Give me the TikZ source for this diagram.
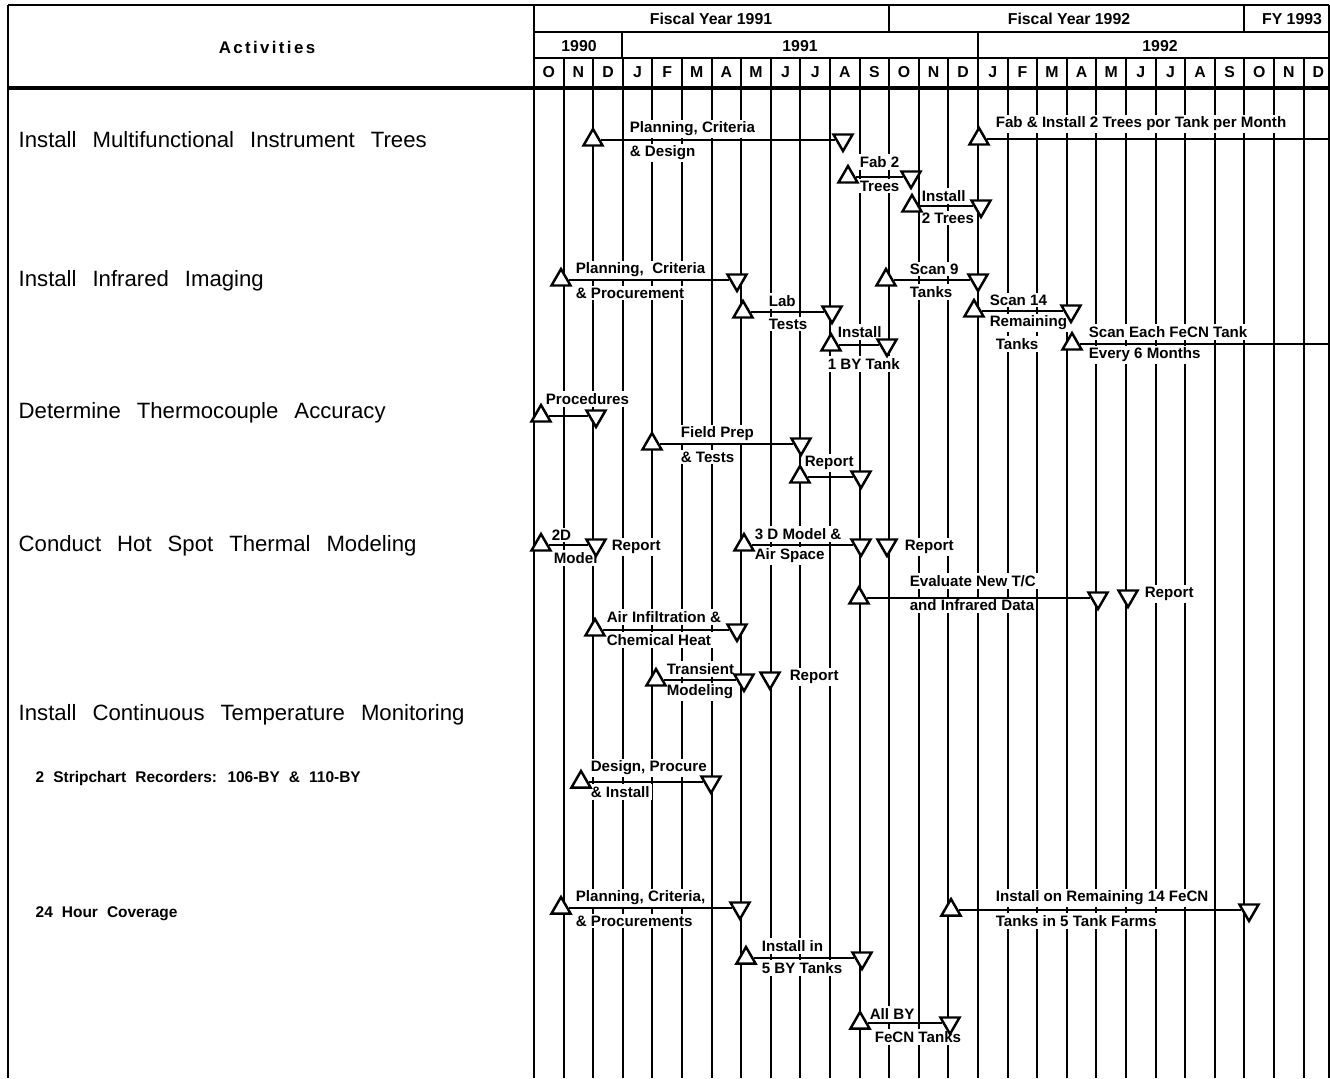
\documentclass[tikz,border=0pt]{standalone}
\usepackage{fontspec}
\setmainfont{Liberation Sans}
\usetikzlibrary{shapes.geometric}

\begin{document}
\begin{tikzpicture}[x=0.01cm,y=-0.01cm,
  rule/.style={line width=0.6pt},
  upmk/.style={draw,line width=0.7pt,fill=white,regular polygon,regular polygon sides=3,minimum size=0.22cm,inner sep=0pt},
  dnmk/.style={upmk,shape border rotate=180},
  lab/.style={anchor=west,fill=white,inner sep=0.6pt,font=\bfseries\fontsize{4.3}{5}\selectfont},
  hd/.style={font=\bfseries\fontsize{4.5}{5}\selectfont},
  act/.style={anchor=west,inner sep=0pt,font={\fontsize{6.3}{7}\selectfont\spaceskip 0.16cm\relax}},
  sub/.style={anchor=west,inner sep=0pt,font={\bfseries\fontsize{4.4}{6}\selectfont\spaceskip 0.09cm\relax}}]
\useasboundingbox (0,0) rectangle (1330,1078);

\draw[rule] (8,5) -- (1329,5);
\draw[rule] (534,32) -- (1329,32);
\draw[rule] (534,58) -- (1329,58);
\draw[line width=1.3pt] (8,88) -- (1329,88);
\draw[rule] (8,5) -- (8,1078);
\draw[rule] (534,5) -- (534,1078);
\draw[rule] (1329,5) -- (1329,1078);
\draw[rule] (889,5) -- (889,32);
\draw[rule] (1244,5) -- (1244,32);
\draw[rule] (622,32) -- (622,58);
\draw[rule] (978,32) -- (978,58);
\foreach \k in {1,...,26}
  \draw[rule] ({534+29.6*\k},58) -- ({534+29.6*\k},1078);

\node[hd,font={\bfseries\fontsize{4.8}{5}\selectfont\addfontfeature{LetterSpace=14}}] (act) at (267,47) {Activities};
\node[hd] (fy1) at (711,19) {Fiscal Year 1991};
\node[hd] (fy2) at (1069,19) {Fiscal Year 1992};
\node[hd] (fy3) at (1292,19) {FY 1993};
\node[hd] (y90) at (579,46) {1990};
\node[hd] (y91) at (800,46) {1991};
\node[hd] (y92) at (1160,46) {1992};
\foreach \m [count=\k from 0] in {O,N,D,J,F,M,A,M,J,J,A,S,O,N,D,J,F,M,A,M,J,J,A,S,O,N,D}
  \node[hd] (m\k) at ({548.8+29.6*\k},72) {\m};

\node[act] (a1) at (18,140) {Install Multifunctional Instrument Trees};
\node[act] (a2) at (18,281) {Install Infrared Imaging};
\node[act] (a3) at (18,413) {Determine Thermocouple Accuracy};
\node[act] (a4) at (18,546) {Conduct Hot Spot Thermal Modeling};
\node[act] (a5) at (18,715) {Install Continuous Temperature Monitoring};
\node[sub] (a6) at (35,778) {2 Stripchart Recorders: 106-BY \& 110-BY};
\node[sub] (a7) at (35,914) {24 Hour Coverage};

\node[lab] (pcdt) at (627,129) {Planning, Criteria};
\node[lab] (pcdb) at (627,153) {\& Design};
\node[lab] (fabt) at (857,162) {Fab 2};
\node[lab] (fabb) at (857,186) {Trees};
\node[lab] (inst) at (919,196) {Install};
\node[lab] (insb) at (919,218) {2 Trees};
\node[lab] (fitt) at (993,124) {Fab \& Install 2 Trees por Tank per Month};

\node[lab] (pcpt) at (573,270) {Planning,\ \ Criteria};
\node[lab] (pcpb) at (573,293) {\& Procurement};
\node[lab] (labt) at (766,301) {Lab};
\node[lab] (labb) at (766,324) {Tests};
\node[lab] (ibyt) at (835,332) {Install};
\node[lab] (ibyb) at (825,364) {1 BY Tank};
\node[lab] (sc9t) at (907,269) {Scan 9};
\node[lab] (sc9b) at (907,292) {Tanks};
\node[lab] (s14t) at (987,300) {Scan 14};
\node[lab] (s14m) at (987,323) {Remaining};
\node[lab] (s14b) at (993,344) {Tanks};
\node[lab] (sevt) at (1086,332) {Scan Each FeCN Tank};
\node[lab] (sevb) at (1086,355) {Every 6 Months};

\node[lab] (prot) at (543,399) {Procedures};
\node[lab] (fptt) at (678,434) {Field Prep};
\node[lab] (fptb) at (678,457) {\& Tests};
\node[lab] (rp3t) at (802,463) {Report};

\node[lab] (m2dt) at (549,535) {2D};
\node[lab] (m2db) at (551,558) {Model};
\node[lab] (rp4a) at (609,547) {Report};
\node[lab] (m3dt) at (752,534) {3 D Model \&};
\node[lab] (m3db) at (752,556) {Air Space};
\node[lab] (rp4b) at (902,547) {Report};
\node[lab] (evt) at (907,581) {Evaluate New T/C};
\node[lab] (evb) at (907,605) {and Infrared Data};
\node[lab] (rp4c) at (1142,594) {Report};
\node[lab] (aict) at (604,617) {Air Infiltration \&};
\node[lab] (aicb) at (604,640) {Chemical Heat};
\node[lab] (trmt) at (664,669) {Transient};
\node[lab] (trmb) at (664,692) {Modeling};
\node[lab] (rp4d) at (787,677) {Report};

\node[lab] (dpit) at (588,768) {Design, Procure};
\node[lab] (dpib) at (588,792) {\& Install};

\node[lab] (pcrt) at (573,898) {Planning, Criteria,};
\node[lab] (pcrb) at (573,921) {\& Procurements};
\node[lab] (i5bt) at (759,946) {Install in};
\node[lab] (i5bb) at (759,968) {5 BY Tanks};
\node[lab] (abft) at (867,1014) {All BY};
\node[lab] (abfb) at (872,1037) {FeCN Tanks};
\node[lab] (irtt) at (993,898) {Install on Remaining 14 FeCN};
\node[lab] (irtb) at (993,921) {Tanks in 5 Tank Farms};

\node[upmk] (pcda) at (593,140) {}; \node[dnmk] (pcdz) at (843,140) {};
\node[upmk] (faba) at (848,177) {}; \node[dnmk] (fabz) at (911,177) {};
\node[upmk] (insa) at (912,206) {}; \node[dnmk] (insz) at (981,206) {};
\node[upmk] (fita) at (979,139) {}; \coordinate (fitz) at (1329,139);
\draw[rule] (pcda) -- (pcdz); \draw[rule] (faba) -- (fabz);
\draw[rule] (insa) -- (insz); \draw[rule] (fita) -- (fitz);

\node[upmk] (pcpa) at (561,280) {}; \node[dnmk] (pcpz) at (737,280) {};
\node[upmk] (laba) at (743,312) {}; \node[dnmk] (labz) at (832,312) {};
\node[upmk] (ibya) at (831,345) {}; \node[dnmk] (ibyz) at (887,345) {};
\node[upmk] (sc9a) at (886,280) {}; \node[dnmk] (sc9z) at (978,280) {};
\node[upmk] (s14a) at (974,311) {}; \node[dnmk] (s14z) at (1071,311) {};
\node[upmk] (seva) at (1072,344) {}; \coordinate (sevz) at (1329,344);
\draw[rule] (pcpa) -- (pcpz); \draw[rule] (laba) -- (labz);
\draw[rule] (ibya) -- (ibyz); \draw[rule] (sc9a) -- (sc9z);
\draw[rule] (s14a) -- (s14z); \draw[rule] (seva) -- (sevz);

\node[upmk] (proa) at (541,416) {}; \node[dnmk] (proz) at (596,416) {};
\node[upmk] (fpta) at (652,444) {}; \node[dnmk] (fptz) at (801,444) {};
\node[upmk] (rp3a) at (800,477) {}; \node[dnmk] (rp3z) at (861,477) {};
\draw[rule] (proa) -- (proz); \draw[rule] (fpta) -- (fptz);
\draw[rule] (rp3a) -- (rp3z);

\node[upmk] (m2da) at (541,545) {}; \node[dnmk] (m2dz) at (596,545) {};
\node[upmk] (m3da) at (744,545) {}; \node[dnmk] (m3dz) at (861,545) {};
\node[dnmk] (rp4y) at (887,545) {};
\node[upmk] (eva) at (859,598) {}; \node[dnmk] (evz) at (1098,598) {};
\node[dnmk] (rp4x) at (1128,596) {};
\node[upmk] (aica) at (595,630) {}; \node[dnmk] (aicz) at (737,630) {};
\node[upmk] (trma) at (656,680) {}; \node[dnmk] (trmz) at (744,680) {};
\node[dnmk] (rp4w) at (770,678) {};
\draw[rule] (m2da) -- (m2dz); \draw[rule] (m3da) -- (m3dz);
\draw[rule] (eva) -- (evz); \draw[rule] (aica) -- (aicz);
\draw[rule] (trma) -- (trmz);

\node[upmk] (dpia) at (581,782) {}; \node[dnmk] (dpiz) at (711,782) {};
\draw[rule] (dpia) -- (dpiz);

\node[upmk] (pcra) at (561,908) {}; \node[dnmk] (pcrz) at (740,908) {};
\node[upmk] (i5ba) at (746,958) {}; \node[dnmk] (i5bz) at (862,958) {};
\node[upmk] (abfa) at (860,1023) {}; \node[dnmk] (abfz) at (950,1023) {};
\node[upmk] (irta) at (951,910) {}; \node[dnmk] (irtz) at (1249,910) {};
\draw[rule] (pcra) -- (pcrz); \draw[rule] (i5ba) -- (i5bz);
\draw[rule] (abfa) -- (abfz); \draw[rule] (irta) -- (irtz);
\end{tikzpicture}
\end{document}
